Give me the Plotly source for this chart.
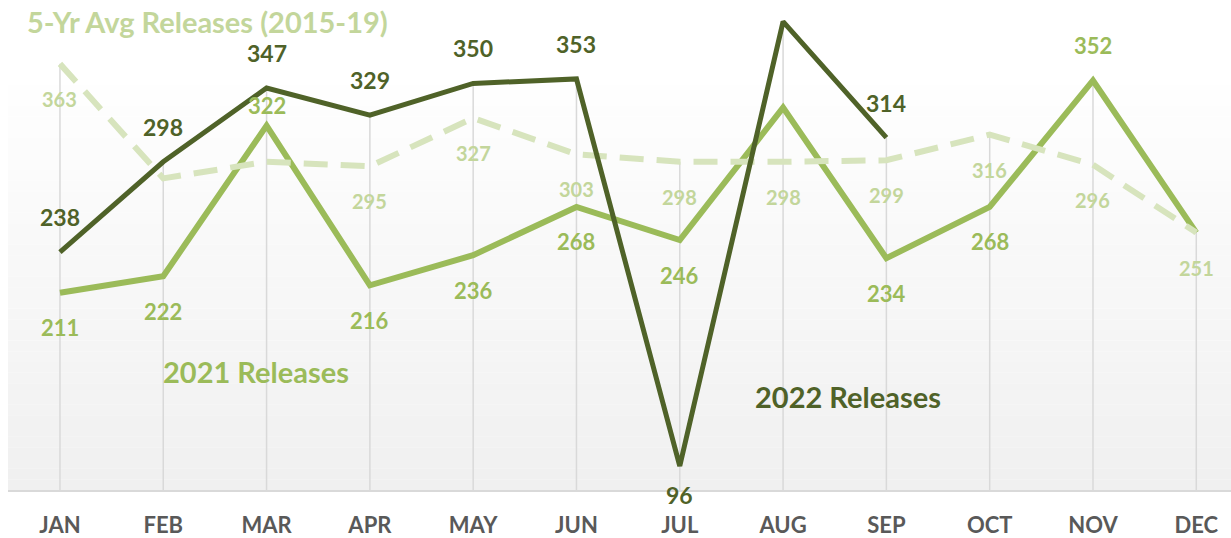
import plotly.graph_objects as go

months = ["JAN", "FEB", "MAR", "APR", "MAY", "JUN", "JUL", "AUG", "SEP", "OCT", "NOV", "DEC"]
avg_5yr = [363, 287, 298, 295, 327, 303, 298, 298, 299, 316, 296, 251]
rel_2021 = [211, 222, 322, 216, 236, 268, 246, 334, 234, 268, 352, 251]
rel_2022 = [238, 298, 347, 329, 350, 353, 96, 391, 314]

lab_5yr = [363, None, None, 295, 327, 303, 298, 298, 299, 316, 296, 251]
lab_2021 = [211, 222, 322, 216, 236, 268, 246, None, 234, 268, 352, None]
lab_2022 = [238, 298, 347, 329, 350, 353, 96, None, 314]

pos_5yr = ["below"] * 12
pos_2021 = ["below", "below", "near", "below", "below", "below", "below", "above", "below", "below", "above", "below"]
pos_2022 = ["above", "above", "above", "above", "above", "above", "below_near", "above", "above"]
SHIFT = {"above": 35, "below": -35, "near": 20, "below_near": -29}

C22 = "#4f6228"
C21 = "#9bbb59"
C5 = "#d7e4bd"
C5T = "#c3d69b"
FONT = "Lato"

fig = go.Figure()

fig.add_trace(go.Scatter(x=months, y=rel_2021, mode="lines",
                         line=dict(color=C21, width=6), hoverinfo="skip"))
fig.add_trace(go.Scatter(x=months, y=avg_5yr, mode="lines",
                         line=dict(color=C5, width=6, dash="24px,13px"), hoverinfo="skip"))
fig.add_trace(go.Scatter(x=months[:len(rel_2022)], y=rel_2022, mode="lines",
                         line=dict(color=C22, width=5), hoverinfo="skip"))

ymin, ymax = 80.1, 405.4

shapes = []
# gradient background (white -> light gray)
nb = 40
top_p = 0.871
for i in range(nb):
    y0 = top_p * i / nb
    y1 = top_p * (i + 1) / nb
    g = int(round(240 + 15 * (i / (nb - 1))))
    shapes.append(dict(type="rect", xref="paper", yref="paper", x0=0, x1=1, y0=y0, y1=y1,
                       fillcolor=f"rgb({g},{g},{g})", line=dict(width=0), layer="below"))
# drop lines from highest point to axis
for i, m in enumerate(months):
    vals = [avg_5yr[i], rel_2021[i]] + ([rel_2022[i]] if i < len(rel_2022) else [])
    shapes.append(dict(type="line", xref="x", yref="y", x0=m, x1=m, y0=ymin, y1=max(vals),
                       line=dict(color="#d9d9d9", width=1.5), layer="below"))

annotations = []
def add_labels(labels, positions, values, color, size):
    for i, (lab, pos) in enumerate(zip(labels, positions)):
        if lab is None:
            continue
        annotations.append(dict(x=months[i], y=values[i], xref="x", yref="y", text=str(lab),
                                showarrow=False, yshift=SHIFT[pos],
                                font=dict(family=FONT, size=size, color=color, weight="bold")))

add_labels(lab_5yr, pos_5yr, avg_5yr, C5T, 20)
add_labels(lab_2021, pos_2021, rel_2021, C21, 22)
add_labels(lab_2022, pos_2022, rel_2022, C22, 23)

annotations += [
    dict(text="5-Yr Avg Releases (2015-19)", xref="paper", yref="paper", x=(25 - 8) / 1223, y=1 - 22 / 490,
         xanchor="left", yanchor="middle", showarrow=False,
         font=dict(family=FONT, size=29, color=C5T, weight="bold")),
    dict(text="2021 Releases", xref="paper", yref="paper", x=(256 - 8) / 1223, y=1 - 371 / 490,
         xanchor="center", yanchor="middle", showarrow=False,
         font=dict(family=FONT, size=29, color=C21, weight="bold")),
    dict(text="2022 Releases", xref="paper", yref="paper", x=(848 - 8) / 1223, y=1 - 396 / 490,
         xanchor="center", yanchor="middle", showarrow=False,
         font=dict(family=FONT, size=29, color=C22, weight="bold")),
]

fig.update_layout(
    width=1231, height=538,
    margin=dict(l=8, r=0, t=0, b=48, autoexpand=False),
    paper_bgcolor="white", plot_bgcolor="white",
    showlegend=False,
    shapes=shapes, annotations=annotations,
    xaxis=dict(type="category", categoryorder="array", categoryarray=months,
               range=[-0.503, 11.336], showgrid=False, zeroline=False, automargin=False,
               showline=True, linecolor="#d9d9d9", linewidth=2,
               ticks="", ticklabelstandoff=15,
               tickfont=dict(family=FONT, size=22, color="#595959", weight="bold")),
    yaxis=dict(range=[ymin, ymax], showgrid=False, zeroline=False, showticklabels=False,
               automargin=False, showline=False, ticks=""),
)

fig.write_html("out.html", config={"displayModeBar": False},
               post_script="document.body.style.margin='0';document.body.style.overflow='hidden';")
